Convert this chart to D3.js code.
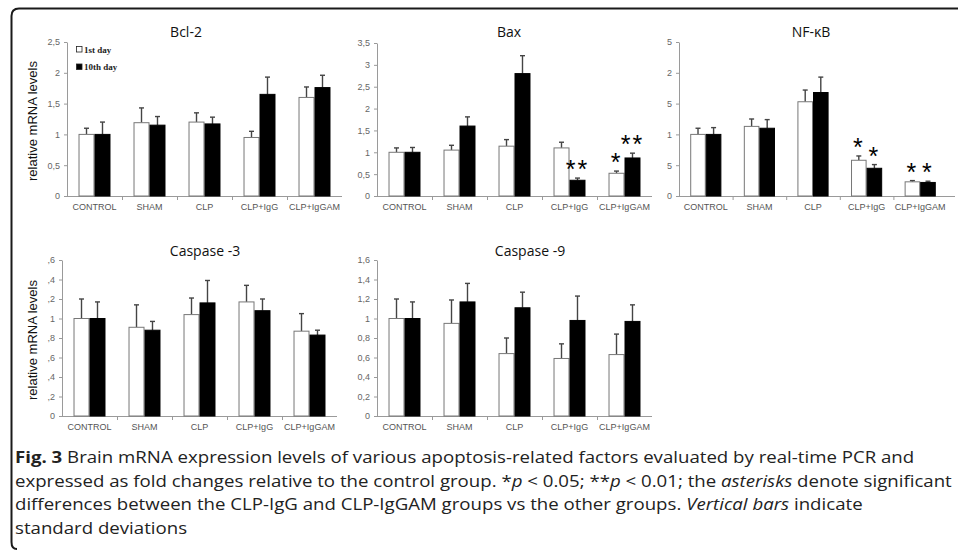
<!DOCTYPE html>
<html>
<head>
<meta charset="utf-8">
<script src="https://cdn.jsdelivr.net/npm/d3@7"></script>
<style>
  body { margin: 0; background: #fff; }
  svg { display: block; }
</style>
</head>
<body>
<svg id="fig" width="958" height="555"></svg>
<script>
// data
var categories = ["CONTROL", "SHAM", "CLP", "CLP+IgG", "CLP+IgGAM"];
var seriesNames = ["1st day", "10th day"];

var bcl2Day1 = [1.0, 1.19, 1.2, 0.95, 1.6];
var bcl2Day10 = [1.0, 1.15, 1.17, 1.65, 1.76];
var bcl2Sd1 = [0.1, 0.24, 0.15, 0.1, 0.17];
var bcl2Sd10 = [0.2, 0.14, 0.11, 0.28, 0.2];

var baxDay1 = [1.0, 1.05, 1.14, 1.1, 0.52];
var baxDay10 = [1.0, 1.6, 2.8, 0.36, 0.87];
var baxSd1 = [0.1, 0.11, 0.15, 0.13, 0.05];
var baxSd10 = [0.11, 0.21, 0.41, 0.05, 0.11];
var baxStars1 = ["", "", "", "", "*"];
var baxStars10 = ["", "", "", "**", "**"];

var nfkbDay1 = [1.0, 1.13, 1.53, 0.58, 0.23];
var nfkbDay10 = [1.0, 1.1, 1.68, 0.45, 0.22];
var nfkbSd1 = [0.1, 0.12, 0.19, 0.07, 0.02];
var nfkbSd10 = [0.11, 0.14, 0.25, 0.06, 0.02];
var nfkbStars1 = ["", "", "", "*", "*"];
var nfkbStars10 = ["", "", "", "*", "*"];

var casp3Day1 = [1.0, 0.91, 1.04, 1.17, 0.87];
var casp3Day10 = [1.0, 0.88, 1.16, 1.08, 0.83];
var casp3Sd1 = [0.2, 0.23, 0.17, 0.17, 0.18];
var casp3Sd10 = [0.17, 0.09, 0.23, 0.12, 0.05];

var casp9Day1 = [1.0, 0.95, 0.64, 0.59, 0.63];
var casp9Day10 = [1.0, 1.17, 1.11, 0.98, 0.97];
var casp9Sd1 = [0.2, 0.24, 0.16, 0.15, 0.21];
var casp9Sd10 = [0.17, 0.19, 0.16, 0.25, 0.17];

// tick labels as printed (some are clipped in the original)
var bcl2Ticks = ["0", "0,5", "1", "1,5", "2", "2,5"];
var baxTicks = ["0", "0,5", "1", "1,5", "2", "2,5", "3", "3,5"];
var nfkbTicks = ["0", "5", "1", "5", "2", "5"];
var casp3Ticks = ["0", ",2", ",4", ",6", ",8", "1", ",2", ",4", ",6"];
var casp9Ticks = ["0", "0,2", "0,4", "0,6", "0,8", "1", "1,2", "1,4", "1,6"];

var captionLines = [
  [["b", "Fig. 3"], ["", " Brain mRNA expression levels of various apoptosis-related factors evaluated by real-time PCR and"]],
  [["", "expressed as fold changes relative to the control group. *"], ["i", "p"], ["", " < 0.05; **"], ["i", "p"], ["", " < 0.01; the "], ["i", "asterisks"], ["", " denote significant"]],
  [["", "differences between the CLP-IgG and CLP-IgGAM groups vs the other groups. "], ["i", "Vertical bars"], ["", " indicate"]],
  [["", "standard deviations"]]
];

var svg = d3.select("#fig");

// rounded frame round the figure (open on the right)
svg.append("path")
  .attr("d", "M958,8.5 H19 Q11.5,8.5 11.5,16 V542 Q11.5,549 17,549")
  .attr("fill", "none")
  .attr("stroke", "#1a1a1a")
  .attr("stroke-width", 2);

var panels = [
  { title: "Bcl-2", d1: bcl2Day1, d10: bcl2Day10, s1: bcl2Sd1, s10: bcl2Sd10,
    ticks: bcl2Ticks, step: 0.5, max: 2.5,
    left: 67, width: 275, axisEnd: 342, bottom: 196, top: 42, titleX: 186, titleY: 37,
    ylabel: true, legend: true },
  { title: "Bax", d1: baxDay1, d10: baxDay10, s1: baxSd1, s10: baxSd10,
    st1: baxStars1, st10: baxStars10,
    ticks: baxTicks, step: 0.5, max: 3.5,
    left: 377, width: 275, axisEnd: 652, bottom: 196, top: 43, titleX: 509, titleY: 37 },
  { title: "NF-\u03BAB", d1: nfkbDay1, d10: nfkbDay10, s1: nfkbSd1, s10: nfkbSd10,
    st1: nfkbStars1, st10: nfkbStars10,
    ticks: nfkbTicks, step: 0.5, max: 2.5,
    left: 679, width: 268, axisEnd: 955, bottom: 196, top: 42, titleX: 811, titleY: 37 },
  { title: "Caspase -3", d1: casp3Day1, d10: casp3Day10, s1: casp3Sd1, s10: casp3Sd10,
    ticks: casp3Ticks, step: 0.2, max: 1.6,
    left: 62, width: 275, axisEnd: 337, bottom: 416, top: 260, titleX: 205, titleY: 256,
    ylabel: true },
  { title: "Caspase -9", d1: casp9Day1, d10: casp9Day10, s1: casp9Sd1, s10: casp9Sd10,
    ticks: casp9Ticks, step: 0.2, max: 1.6,
    left: 377, width: 275, axisEnd: 652, bottom: 416, top: 260, titleX: 530, titleY: 256 }
];

var axisColor = "#9a9a9a";

panels.forEach(function(p) {
  var g = svg.append("g");

  var x0 = d3.scaleBand().domain(categories).range([p.left, p.left + p.width]);
  var x1 = d3.scaleBand().domain(seriesNames).range([0, x0.bandwidth()])
    .paddingInner(0).paddingOuter(0.72);
  var y = d3.scaleLinear().domain([0, p.max]).range([p.bottom, p.top]);

  // y axis
  var tickVals = p.ticks.map((t, i) => +(i * p.step).toFixed(2));
  var yAxis = g.append("g")
    .attr("transform", "translate(" + p.left + ",0)")
    .call(d3.axisLeft(y).tickValues(tickVals).tickSize(3).tickSizeOuter(0)
      .tickFormat((d, i) => p.ticks[i]));
  yAxis.select(".domain").attr("stroke", axisColor);
  yAxis.selectAll(".tick line").attr("stroke", axisColor);
  yAxis.selectAll(".tick text")
    .attr("x", -7)
    .attr("fill", "#666")
    .style("font", "9px 'Liberation Sans', Arial, sans-serif");

  // x axis with separators between groups
  var xAxis = g.append("g")
    .attr("transform", "translate(0," + p.bottom + ")")
    .call(d3.axisBottom(x0).tickSize(0).tickSizeOuter(0));
  xAxis.select(".domain")
    .attr("d", "M" + p.left + ",0.5H" + p.axisEnd)
    .attr("stroke", axisColor);
  xAxis.selectAll(".tick text")
    .attr("y", 8)
    .attr("fill", "#555")
    .style("font", "9px 'Liberation Sans', Arial, sans-serif");
  g.selectAll(".sep")
    .data(categories.slice(1))
    .enter().append("line")
      .attr("x1", d => x0(d) + 0.5)
      .attr("x2", d => x0(d) + 0.5)
      .attr("y1", p.bottom)
      .attr("y2", p.bottom + 4)
      .attr("stroke", axisColor);

  // bars
  var rows = [];
  categories.forEach(function(c, i) {
    rows.push({ cat: c, s: seriesNames[0], v: p.d1[i], sd: p.s1[i], star: p.st1 ? p.st1[i] : "" });
    rows.push({ cat: c, s: seriesNames[1], v: p.d10[i], sd: p.s10[i], star: p.st10 ? p.st10[i] : "" });
  });

  // error bars first, bars on top hide the lower part
  var eb = g.selectAll(".err").data(rows).enter().append("g");
  eb.append("line")
    .attr("x1", d => x0(d.cat) + x1(d.s) + x1.bandwidth() / 2)
    .attr("x2", d => x0(d.cat) + x1(d.s) + x1.bandwidth() / 2)
    .attr("y1", d => y(d.v))
    .attr("y2", d => y(d.v + d.sd))
    .attr("stroke", "#444")
    .attr("stroke-width", 1.4);
  eb.append("line")
    .attr("x1", d => x0(d.cat) + x1(d.s) + x1.bandwidth() / 2 - 2.5)
    .attr("x2", d => x0(d.cat) + x1(d.s) + x1.bandwidth() / 2 + 2.5)
    .attr("y1", d => y(d.v + d.sd))
    .attr("y2", d => y(d.v + d.sd))
    .attr("stroke", "#444")
    .attr("stroke-width", 1.4);

  g.selectAll(".bar").data(rows).enter().append("rect")
    .attr("x", d => x0(d.cat) + x1(d.s) + 0.5)
    .attr("y", d => y(d.v))
    .attr("width", x1.bandwidth() - 1)
    .attr("height", d => p.bottom - y(d.v))
    .attr("fill", d => d.s === seriesNames[0] ? "#fff" : "#000")
    .attr("stroke", d => d.s === seriesNames[0] ? "#777" : "#000")
    .attr("stroke-width", 1);

  // significance asterisks
  g.selectAll(".star").data(rows.filter(d => d.star)).enter().append("text")
    .attr("x", d => x0(d.cat) + x1(d.s) + x1.bandwidth() / 2)
    .attr("y", d => y(d.v + d.sd))
    .attr("text-anchor", "middle")
    .attr("fill", "#000")
    .style("font", "25px 'Liberation Sans', Arial, sans-serif")
    .style("letter-spacing", "2px")
    .text(d => d.star);

  // title
  g.append("text")
    .attr("x", p.titleX)
    .attr("y", p.titleY)
    .attr("text-anchor", "middle")
    .attr("fill", "#111")
    .style("font", "14px 'Open Sans', 'Noto Sans', sans-serif")
    .text(p.title);

  if (p.ylabel) {
    g.append("text")
      .attr("transform", "translate(37," + ((p.top + p.bottom) / 2 + 2) + ") rotate(-90)")
      .attr("text-anchor", "middle")
      .attr("fill", "#111")
      .style("font", "13px 'Liberation Sans', Arial, sans-serif")
      .text("relative mRNA levels");
  }

  if (p.legend) {
    var lg = g.append("g").attr("transform", "translate(" + (p.left + 9) + "," + (p.top + 4) + ")");
    seriesNames.forEach(function(s, i) {
      lg.append("rect")
        .attr("x", 0.5).attr("y", i * 17.5 + 0.5)
        .attr("width", 5.5).attr("height", 5.5)
        .attr("fill", i === 0 ? "#fff" : "#000")
        .attr("stroke", "#222").attr("stroke-width", 0.8);
      lg.append("text")
        .attr("x", 8).attr("y", i * 17.5 + 6.5)
        .attr("fill", "#222")
        .style("font", "bold 9px 'Liberation Serif', 'DejaVu Serif', serif")
        .text(s);
    });
  }
});

// caption: one common horizontal squeeze taken from the first line
var capTexts = captionLines.map(function(line, i) {
  var t = svg.append("text")
    .attr("fill", "#222")
    .style("font", "16.5px 'Open Sans', 'Noto Sans', sans-serif");
  line.forEach(function(part) {
    t.append("tspan")
      .attr("font-weight", part[0] === "b" ? "bold" : null)
      .attr("font-style", part[0] === "i" ? "italic" : null)
      .text(part[1]);
  });
  return t;
});
var squeeze = 900 / capTexts[0].node().getComputedTextLength();
capTexts.forEach(function(t, i) {
  t.attr("transform", "translate(15," + (463 + i * 23.7) + ") scale(" + squeeze + ",1)");
});
</script>
</body>
</html>
